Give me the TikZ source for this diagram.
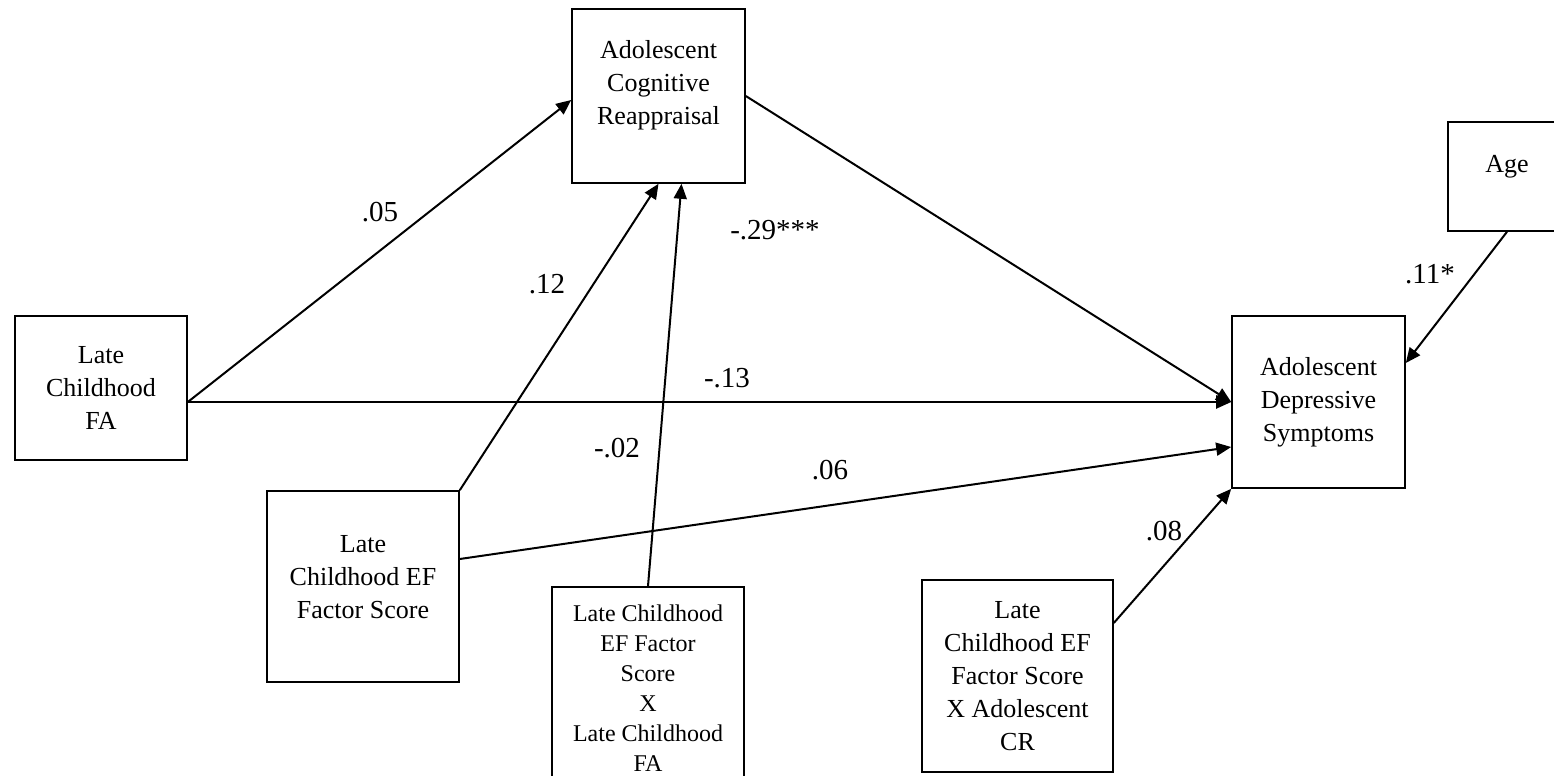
\documentclass[tikz,border=0pt]{standalone}
\usepackage{fontspec}
\setmainfont{Liberation Serif}
\usetikzlibrary{arrows.meta, positioning, calc}

\begin{document}
\begin{tikzpicture}[
  x=0.5pt, y=-0.5pt,
  box/.style={rectangle,draw,line width=0.8pt,align=center,inner sep=0pt,
              font=\fontsize{13}{16.5}\selectfont},
  smallbox/.style={box,font=\fontsize{12}{15}\selectfont},
  arrow/.style={-{Triangle[length=7.5pt,width=6.5pt]},line width=1pt},
  coef/.style={font=\fontsize{14.5}{17}\selectfont,inner sep=0pt}
]
  \useasboundingbox (0,0) rectangle (1554,776);

  % boxes
  \node[box, minimum width=86.5pt, minimum height=87pt, text depth=14pt] (cr)  at (658.5,96)  {Adolescent\\Cognitive\\Reappraisal};
  \node[box, minimum width=86pt,   minimum height=72pt]                  (fa)  at (101,388)   {Late\\Childhood\\FA};
  \node[box, minimum width=96pt,   minimum height=95.5pt, text depth=10pt] (ef) at (363,586.5) {Late\\Childhood EF\\Factor Score};
  \node[smallbox, minimum width=96pt, minimum height=101.5pt]            (int) at (648,688.5) {Late Childhood\\EF Factor\\Score\\X\\Late Childhood\\FA};
  \node[box, minimum width=95.5pt, minimum height=96pt]                  (efcr) at (1017.5,676) {Late\\Childhood EF\\Factor Score\\X Adolescent\\CR};
  \node[box, minimum width=86.5pt, minimum height=86pt]                  (ds)  at (1318.5,402) {Adolescent\\Depressive\\Symptoms};
  \node[box, minimum width=59pt,   minimum height=54.5pt, text depth=12.3pt] (age) at (1507,176.5) {Age};

  % paths
  \draw[arrow] ([yshift=-7pt]fa.east) -- ([yshift=-2pt]cr.west);
  \draw[arrow] ([yshift=-7pt]fa.east) -- ([yshift=-7pt]fa.east -| ds.west);
  \draw[arrow] (ef.north east) -- (cr.south);
  \draw[arrow] (int.north) -- ([xshift=11.5pt]cr.south);
  \draw[arrow] ([yshift=13.75pt]ef.east) -- ([yshift=-22.5pt]ds.west);
  \draw[arrow] (cr.east) -- (ds.west);
  \draw[arrow] ([yshift=26.5pt]efcr.east) -- (ds.south west);
  \draw[arrow] (age.south) -- ([yshift=19.5pt]ds.east);

  % coefficients
  \node[coef] (c05)  at (380,212)  {.05};
  \node[coef] (c12)  at (547,284)  {.12};
  \node[coef] (c02)  at (617,448)  {-.02};
  \node[coef] (c13)  at (727,378)  {-.13};
  \node[coef] (c29)  at (775,230)  {-.29***};
  \node[coef] (c06)  at (830,470)  {.06};
  \node[coef] (c08)  at (1164,531) {.08};
  \node[coef] (c11)  at (1430,274) {.11*};
\end{tikzpicture}
\end{document}
